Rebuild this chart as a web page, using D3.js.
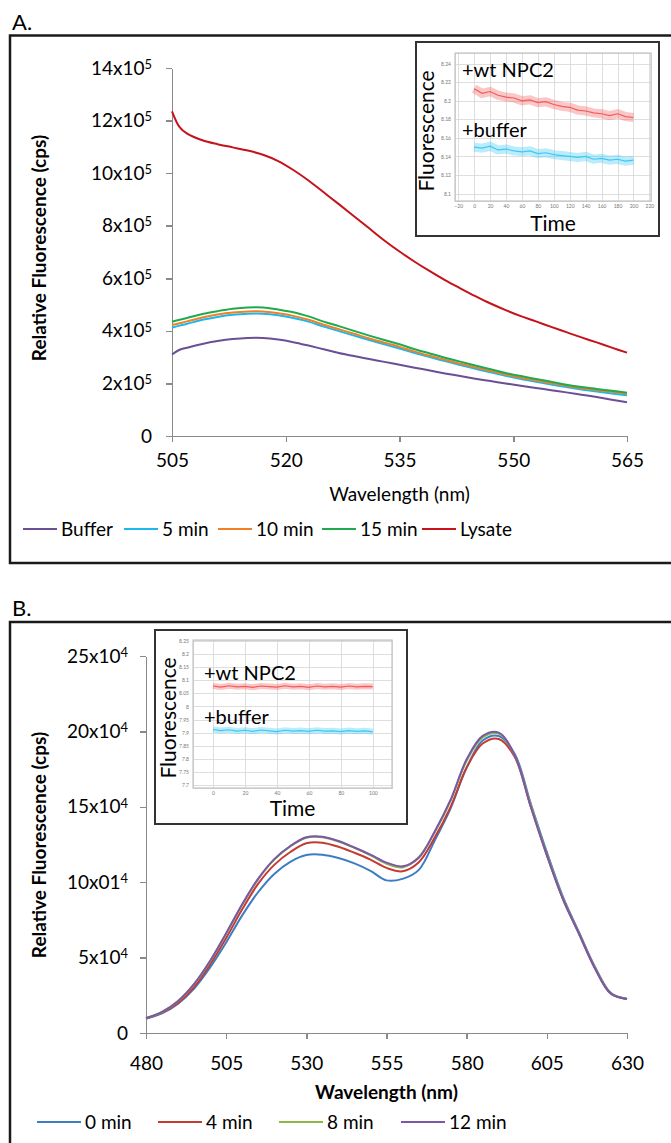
<!doctype html>
<html>
<head>
<meta charset="utf-8">
<style>
  body { margin: 0; background: #fff; font-family: Lato, "Open Sans", sans-serif; }
  .axis path, .axis line { stroke: #8a8a8a; stroke-width: 1.5px; shape-rendering: crispEdges; }
  .axis text { fill: #000; font-family: Lato, sans-serif; }
  .mini path, .mini line { stroke: #d6d6d6; stroke-width: 0.8px; shape-rendering: crispEdges; }
  .mini text { fill: #777; font-size: 5px; font-family: Lato, sans-serif; }
  .curve { fill: none; stroke-width: 2px; }
</style>
<script src="https://d3js.org/d3.v7.min.js"></script>
</head>
<body>
<script>
// ===== Panel A: emission spectra, values in units of 10^5 cps
var wlA = [505,506,507,509,511,513,515,517,519,521,523,525,527,529,531,533,535,537,539,541,543,545,547,549,551,553,555,557,559,561,563,565];
var buffer = [3.10,3.28,3.36,3.50,3.61,3.69,3.73,3.73,3.67,3.57,3.44,3.30,3.16,3.04,2.93,2.82,2.71,2.60,2.49,2.38,2.28,2.18,2.09,2.00,1.91,1.83,1.74,1.66,1.57,1.48,1.38,1.28];
var min5 = [4.12,4.20,4.27,4.42,4.53,4.61,4.65,4.65,4.59,4.49,4.35,4.16,3.99,3.82,3.65,3.49,3.33,3.16,3.00,2.85,2.70,2.56,2.42,2.29,2.17,2.06,1.96,1.86,1.77,1.69,1.62,1.55];
var min10 = [4.22,4.29,4.36,4.51,4.62,4.70,4.74,4.74,4.67,4.57,4.42,4.23,4.06,3.89,3.71,3.55,3.39,3.21,3.05,2.90,2.75,2.61,2.47,2.34,2.22,2.11,2.01,1.91,1.82,1.75,1.68,1.61];
var min15 = [4.35,4.42,4.49,4.64,4.75,4.84,4.89,4.89,4.81,4.71,4.55,4.35,4.18,4.00,3.82,3.65,3.49,3.30,3.14,2.98,2.83,2.68,2.54,2.40,2.28,2.17,2.06,1.95,1.86,1.79,1.72,1.65];
var lysate = [12.35,11.75,11.50,11.25,11.10,10.98,10.86,10.70,10.46,10.12,9.72,9.27,8.82,8.36,7.90,7.44,7.02,6.63,6.27,5.93,5.62,5.32,5.04,4.79,4.56,4.36,4.15,3.95,3.75,3.56,3.36,3.17];
var namesA = ["Buffer","5 min","10 min","15 min","Lysate"];
var colorsA = ["#6B4F96","#1AB8EE","#F07F26","#1FAA50","#C5121B"];
var xTicksA = [505,520,535,550,565];
var yTicksA = [0,2,4,6,8,10,12,14];
var yLabelsA = ["0","2x10^5","4x10^5","6x10^5","8x10^5","10x10^5","12x10^5","14x10^5"];

// inset A: time trace
var tA = [0,10,20,30,40,50,60,70,80,90,100,110,120,130,140,150,160,170,180,190,200];
var npcA = [8.213,8.208,8.210,8.206,8.204,8.203,8.200,8.201,8.198,8.199,8.196,8.194,8.193,8.190,8.189,8.187,8.186,8.184,8.186,8.183,8.182];
var bufA = [8.150,8.149,8.151,8.147,8.148,8.146,8.145,8.146,8.143,8.144,8.142,8.141,8.140,8.139,8.140,8.137,8.138,8.136,8.137,8.135,8.136];
var insetXTicksA = [-20,0,20,40,60,80,100,120,140,160,180,200,220];
var insetYTicksA = [8.1,8.12,8.14,8.16,8.18,8.2,8.22,8.24];

// ===== Panel B: emission spectra, values in units of 10^4 cps
var wlB = [480,485,490,495,500,505,510,515,520,525,530,535,540,545,550,555,560,565,570,575,580,585,590,595,600,605,610,615,620,625,630];
var m0 = [0.95,1.30,1.95,2.95,4.35,6.00,7.80,9.35,10.55,11.35,11.80,11.82,11.60,11.25,10.75,10.12,10.22,10.80,12.75,14.90,17.60,19.40,19.70,18.50,15.20,12.00,9.05,6.70,4.40,2.65,2.26];
var m4 = [0.98,1.35,2.00,3.05,4.55,6.30,8.20,9.90,11.15,12.00,12.58,12.62,12.35,11.95,11.50,10.95,10.72,11.30,12.95,15.00,17.60,19.20,19.50,18.30,15.00,11.80,8.90,6.60,4.30,2.60,2.26];
var m8 = [0.98,1.38,2.10,3.22,4.75,6.58,8.50,10.20,11.50,12.38,12.95,12.98,12.70,12.28,11.78,11.22,10.98,11.65,13.30,15.40,18.05,19.60,19.85,18.40,15.10,11.85,8.95,6.62,4.35,2.62,2.27];
var m12 = [0.98,1.40,2.12,3.25,4.79,6.62,8.54,10.24,11.53,12.40,12.98,13.02,12.73,12.30,11.83,11.30,11.05,11.60,13.35,15.47,18.15,19.70,19.92,18.40,15.00,11.80,8.90,6.60,4.30,2.60,2.26];
var namesB = ["0 min","4 min","8 min","12 min"];
var colorsB = ["#3C7DC4","#C53A32","#8DB844","#7A57A8"];
var xTicksB = [480,505,530,555,580,605,630];
var yTicksB = [0,5,10,15,20,25];
var yLabelsB = ["0","5x10^4","10x01^4","15x10^4","20x10^4","25x10^4"];

// inset B: time trace
var tB = [0,5,10,15,20,25,30,35,40,45,50,55,60,65,70,75,80,85,90,95,100];
var npcB = [8.078,8.074,8.079,8.075,8.077,8.073,8.078,8.076,8.074,8.079,8.075,8.077,8.073,8.078,8.075,8.077,8.074,8.078,8.075,8.077,8.076];
var bufB = [7.912,7.908,7.911,7.906,7.909,7.905,7.910,7.907,7.904,7.909,7.906,7.908,7.905,7.909,7.906,7.907,7.904,7.908,7.905,7.907,7.903];
var insetXTicksB = [0,20,40,60,80,100];
var insetYTicksB = [7.7,7.75,7.8,7.85,7.9,7.95,8,8.05,8.1,8.15,8.2,8.25];

var svg = d3.select("body").append("svg")
  .attr("width", 671).attr("height", 1143);

// superscript tick labels like "14x10^5"
function supLabels(g, labels) {
  g.selectAll(".tick text").each(function(d, i) {
    var t = d3.select(this).text(null);
    var parts = labels[i].split("^");
    t.append("tspan").text(parts[0]);
    if (parts[1]) t.append("tspan").attr("dy", "-0.45em").style("font-size", "0.68em").text(parts[1]);
  });
}

function spectrum(o) {
  var x = d3.scaleLinear().domain(o.xDom).range([o.left, o.right]);
  var y = d3.scaleLinear().domain(o.yDom).range([o.bottom, o.top]);

  // panel frame and letter
  svg.append("rect").attr("x", 10).attr("y", o.frameTop).attr("width", 700).attr("height", o.frameH)
    .attr("fill", "none").attr("stroke", "#1a1a1a").attr("stroke-width", 2.5);
  svg.append("text").attr("x", 12).attr("y", o.frameTop - 6).style("font-size", "22px").text(o.letter);

  var ya = svg.append("g").attr("class", "axis")
    .attr("transform", "translate(" + o.left + ",0)")
    .call(d3.axisLeft(y).tickValues(o.yTicks).tickSize(6).tickSizeOuter(0).tickPadding(o.yPad));
  ya.selectAll("text").style("font-size", "19px");
  supLabels(ya, o.yLabels);

  var xa = svg.append("g").attr("class", "axis")
    .attr("transform", "translate(0," + o.bottom + ")")
    .call(d3.axisBottom(x).tickValues(o.xTicks).tickFormat(d3.format("d")).tickSize(6).tickSizeOuter(0).tickPadding(o.xPad));
  xa.selectAll("text").style("font-size", "19px");

  var line = d3.line().x(function(d) { return x(d[0]); }).y(function(d) { return y(d[1]); })
    .curve(d3.curveCatmullRom.alpha(0.5));
  o.series.forEach(function(s, i) {
    svg.append("path").attr("class", "curve")
      .attr("d", line(d3.zip(o.wl, s)))
      .attr("stroke", o.colors[i]);
  });

  svg.append("text").attr("x", (o.left + o.right) / 2).attr("y", o.xTitleY)
    .attr("text-anchor", "middle").style("font-size", "19px").style("font-weight", o.xTitleBold ? "bold" : "normal")
    .text("Wavelength (nm)");
  svg.append("text").attr("transform", "translate(46," + o.yTitleMid + ") rotate(-90)")
    .attr("text-anchor", "middle").style("font-size", "19px").style("font-weight", "bold")
    .text("Relative Fluorescence (cps)");

  // legend
  var lg = svg.append("g").selectAll("g").data(o.names).join("g")
    .attr("transform", function(d, i) { return "translate(" + o.legendX[i] + "," + o.legendY + ")"; });
  lg.append("line").attr("x1", 0).attr("x2", o.legendLen).attr("y1", 0).attr("y2", 0)
    .attr("stroke", function(d, i) { return o.colors[i]; }).attr("stroke-width", 2);
  lg.append("text").attr("x", o.legendLen + 4).attr("y", 7).style("font-size", "19px").text(function(d) { return d; });
}

function inset(o) {
  svg.append("rect").attr("x", o.bx).attr("y", o.by).attr("width", o.bw).attr("height", o.bh)
    .attr("fill", "#fff").attr("stroke", "#333").attr("stroke-width", 2);
  var x = d3.scaleLinear().domain(o.xDom).range([o.px, o.px + o.pw]);
  var y = d3.scaleLinear().domain(o.yDom).range([o.py + o.ph, o.py]);

  svg.append("g").attr("class", "mini").attr("transform", "translate(0," + (o.py + o.ph) + ")")
    .call(d3.axisBottom(x).tickValues(o.xTicks).tickSize(-o.ph).tickPadding(3).tickFormat(d3.format("d")));
  svg.append("g").attr("class", "mini").attr("transform", "translate(" + o.px + ",0)")
    .call(d3.axisLeft(y).tickValues(o.yTicks).tickSize(-o.pw).tickPadding(4).tickFormat(function(d) { return String(+d.toFixed(2)); }));
  svg.append("rect").attr("x", o.px).attr("y", o.py).attr("width", o.pw).attr("height", o.ph)
    .attr("fill", "none").attr("stroke", "#c4c4c4").attr("stroke-width", 1.2);

  var line = d3.line().x(function(d) { return x(d[0]); }).y(function(d) { return y(d[1]); });
  [[o.npc, "#F25C5C"], [o.buf, "#3CC8F5"]].forEach(function(s) {
    var pts = d3.zip(o.t, s[0]);
    svg.append("path").attr("d", line(pts)).attr("fill", "none")
      .attr("stroke", s[1]).attr("stroke-width", o.band).attr("stroke-opacity", 0.35);
    svg.append("path").attr("d", line(pts)).attr("fill", "none")
      .attr("stroke", s[1]).attr("stroke-width", 1.2);
  });

  svg.append("text").attr("x", o.labX).attr("y", o.npcY).style("font-size", "20px").text("+wt NPC2");
  svg.append("text").attr("x", o.labX).attr("y", o.bufY).style("font-size", "20px").text("+buffer");
  svg.append("text").attr("transform", "translate(" + o.flX + "," + o.flY + ") rotate(-90)")
    .attr("text-anchor", "middle").style("font-size", "21px").text("Fluorescence");
  svg.append("text").attr("x", o.px + o.pw / 2).attr("y", o.timeY)
    .attr("text-anchor", "middle").style("font-size", "21px").text("Time");
}

spectrum({
  letter: "A.", frameTop: 35.5, frameH: 527.5,
  xDom: [505, 565], yDom: [0, 14], left: 172, right: 627, top: 68, bottom: 436,
  xTicks: xTicksA, yTicks: yTicksA, yLabels: yLabelsA, yPad: 14, xPad: 12,
  wl: wlA, series: [buffer, min5, min10, min15, lysate], colors: colorsA, names: namesA,
  xTitleY: 501, xTitleBold: false, yTitleMid: 248,
  legendX: [23, 124, 218, 322, 422], legendY: 529, legendLen: 34
});
inset({
  bx: 416, by: 42, bw: 243, bh: 194, px: 455, py: 53, pw: 196, ph: 148,
  xDom: [-24, 222], yDom: [8.092, 8.2515], xTicks: insetXTicksA, yTicks: insetYTicksA,
  t: tA, npc: npcA, buf: bufA, band: 9,
  labX: 462, npcY: 77, bufY: 137, flX: 434, flY: 131, timeY: 231
});

spectrum({
  letter: "B.", frameTop: 622, frameH: 600,
  xDom: [480, 630], yDom: [0, 25], left: 146, right: 627, top: 656, bottom: 1033,
  xTicks: xTicksB, yTicks: yTicksB, yLabels: yLabelsB, yPad: 12, xPad: 18,
  wl: wlB, series: [m0, m4, m8, m12], colors: colorsB, names: namesB,
  xTitleY: 1099, xTitleBold: true, yTitleMid: 845,
  legendX: [37, 158, 279, 401], legendY: 1122, legendLen: 44
});
inset({
  bx: 155, by: 630, bw: 252, bh: 194, px: 193, py: 640, pw: 199, ph: 148,
  xDom: [-12.5, 112], yDom: [7.6885, 8.2538], xTicks: insetXTicksB, yTicks: insetYTicksB,
  t: tB, npc: npcB, buf: bufB, band: 6,
  labX: 204, npcY: 680, bufY: 724, flX: 176, flY: 718, timeY: 816
});
</script>
</body>
</html>
